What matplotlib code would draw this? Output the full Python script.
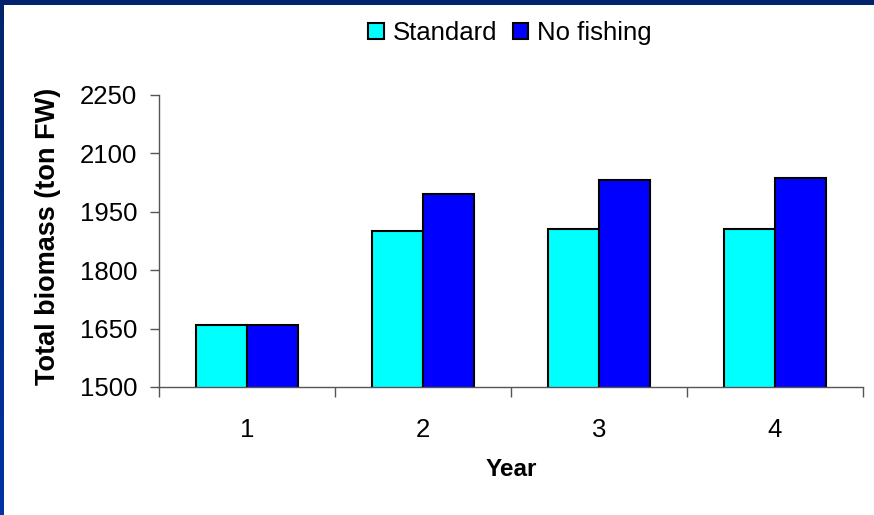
import numpy as np
import matplotlib.pyplot as plt
from matplotlib.patches import Rectangle

plt.rcParams['font.family'] = ['Liberation Sans', 'DejaVu Sans']

# biomass per year for the two scenarios (ton FW)
years = ['1', '2', '3', '4']
standard = [1658, 1901, 1906, 1906]
no_fishing = [1658, 1996, 2032, 2037]
y_ticks = [1500, 1650, 1800, 1950, 2100, 2250]

W, H = 874, 515
fig = plt.figure(figsize=(W / 100, H / 100), dpi=100)
fig.patch.set_facecolor('white')

# slide frame: navy band on top, blue gradient strip down the left
fig.patches.append(Rectangle((0, 1 - 5 / H), 1, 5 / H, transform=fig.transFigure,
                             facecolor='#00236c', edgecolor='none', zorder=0))
strip = fig.add_axes([0, 0, 4 / W, 1 - 5 / H])
grad = np.linspace(0, 1, 100).reshape(-1, 1)
strip.imshow(np.dstack([grad * 0.0, 0.14 + 0.06 * grad, 0.42 + 0.22 * grad]),
             aspect='auto', origin='upper')
strip.axis('off')

ax = fig.add_axes([159 / W, 128 / H, 704 / W, 292 / H])
x = np.arange(1, len(years) + 1)
bw = 0.29
b1 = ax.bar(x - bw / 2, standard, bw, color='#00ffff', edgecolor='black', linewidth=1.5,
            label='Standard')
b2 = ax.bar(x + bw / 2, no_fishing, bw, color='#0000ff', edgecolor='black', linewidth=1.5,
            label='No fishing')

ax.set_xlim(0.5, len(years) + 0.5)
ax.set_ylim(y_ticks[0], y_ticks[-1])
ax.set_yticks(y_ticks)
ax.set_xticks(x)
ax.set_xticklabels(years)
ax.set_xticks(np.arange(0.5, len(years) + 1), minor=True)

for s in ['top', 'right']:
    ax.spines[s].set_visible(False)
for s in ['left', 'bottom']:
    ax.spines[s].set_color('#555555')
    ax.spines[s].set_linewidth(1.0)

ax.tick_params(axis='y', direction='out', length=6.5, width=1.0, color='#555555',
               labelsize=18.5, pad=9)
ax.tick_params(axis='x', which='major', length=0, labelsize=18.5, pad=22)
ax.tick_params(axis='x', which='minor', direction='out', length=7, width=1.0, color='#555555')

fig.text(48 / W, 1 - 236 / H, 'Total biomass (ton FW)', rotation=90, ha='center',
         va='center', fontsize=19.5, fontweight='bold')
fig.text(511 / W, 1 - 470 / H, 'Year', ha='center', va='center', fontsize=17.5,
         fontweight='bold')

fig.legend(handles=[b1, b2], loc='center', bbox_to_anchor=(510 / W, 1 - 33 / H), ncol=2,
           frameon=False, fontsize=18.5, handlelength=0.6, handleheight=0.6,
           handletextpad=0.35, columnspacing=0.6, borderpad=0)

fig.savefig('out.png', dpi=100)
